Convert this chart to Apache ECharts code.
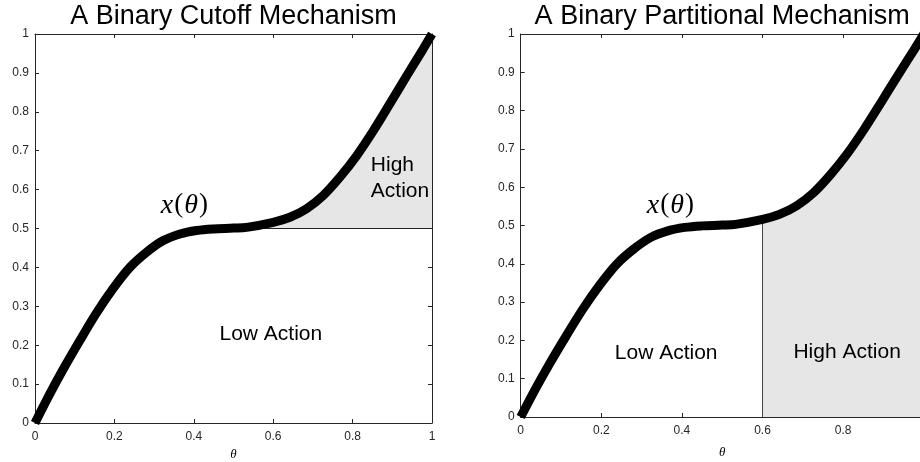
<!DOCTYPE html>
<html>
<head>
<meta charset="utf-8">
<script src="https://cdn.jsdelivr.net/npm/echarts@6/dist/echarts.min.js"></script>
<style>html,body{margin:0;padding:0;background:#fff}#c{width:920px;height:462px}</style>
</head>
<body>
<div id="c"></div>
<script>
// ---- data ----
const theta = [0, 0.038, 0.071, 0.113, 0.155, 0.197, 0.239, 0.281, 0.323, 0.365, 0.407, 0.449, 0.5, 0.533, 0.6, 0.642, 0.684, 0.726, 0.768, 0.81, 0.852, 0.894, 0.936, 0.978, 1];
const xTheta = [0, 0.076, 0.138, 0.212, 0.283, 0.346, 0.400, 0.439, 0.469, 0.486, 0.495, 0.499, 0.501, 0.503, 0.516, 0.529, 0.551, 0.585, 0.632, 0.687, 0.751, 0.821, 0.892, 0.962, 1];
const cutoffLevel = 0.5;      // left panel: horizontal cutoff
const partitionTheta = 0.6;   // right panel: vertical partition
const titles = ['A Binary Cutoff Mechanism', 'A Binary Partitional Mechanism'];

const curve = theta.map((t, i) => [t, xTheta[i]]);
const highLeft = curve.filter(p => p[0] >= 0.5);
const highRight = curve.filter(p => p[0] >= partitionTheta);
const partVal = xTheta[theta.indexOf(partitionTheta)];

const grids = [
  {left: 35, top: 34, width: 397, height: 389},
  {left: 520.7, top: 34, width: 403, height: 383}
];
const axisColor = '#262626';
const font = 'Liberation Sans, Arial, Helvetica, sans-serif';

function xAx(gi, pos, nameGap) {
  const main = pos === 'bottom';
  return {
    type: 'value', gridIndex: gi, position: pos, min: 0, max: 1, interval: 0.2,
    name: main ? 'θ' : '', nameLocation: 'middle', nameGap: nameGap,
    nameTextStyle: {fontFamily: 'Liberation Serif, Times New Roman, serif', fontStyle: 'italic', fontSize: 13, color: '#000'},
    axisLine: {show: true, onZero: false, lineStyle: {color: axisColor, width: 1}},
    axisTick: {show: true, inside: true, length: 4, lineStyle: {color: axisColor}},
    axisLabel: {show: main, fontSize: 12, color: axisColor, fontFamily: font, margin: 8},
    splitLine: {show: false}
  };
}
function yAx(gi, pos) {
  const main = pos === 'left';
  return {
    type: 'value', gridIndex: gi, position: pos, min: 0, max: 1, interval: 0.1,
    axisLine: {show: true, onZero: false, lineStyle: {color: axisColor, width: 1}},
    axisTick: {show: true, inside: true, length: 4, lineStyle: {color: axisColor}},
    axisLabel: {show: main, fontSize: 12, color: axisColor, fontFamily: font, margin: 6},
    splitLine: {show: false}
  };
}

const chart = echarts.init(document.getElementById('c'), null, {renderer: 'canvas'});
const curveStyle = {color: '#000', width: 9, cap: 'butt'};
chart.setOption({
  animation: false,
  grid: grids.map(g => Object.assign({containLabel: false, outerBoundsMode: 'none'}, g)),
  xAxis: [xAx(0, 'bottom', 20), xAx(1, 'bottom', 29), xAx(0, 'top'), xAx(1, 'top')],
  yAxis: [yAx(0, 'left'), yAx(1, 'left'), yAx(0, 'right'), yAx(1, 'right')],
  series: [
    // left shaded high action
    {type: 'line', xAxisIndex: 0, yAxisIndex: 0, data: highLeft, smooth: 0.35,
     showSymbol: false, lineStyle: {width: 0}, areaStyle: {color: '#e6e6e6', opacity: 1, origin: cutoffLevel}, z: 1, silent: true},
    {type: 'line', xAxisIndex: 0, yAxisIndex: 0, data: [[0.5, cutoffLevel], [1, cutoffLevel]],
     showSymbol: false, lineStyle: {color: '#222', width: 1}, z: 2, silent: true},
    {type: 'line', xAxisIndex: 0, yAxisIndex: 0, data: curve, smooth: 0.35,
     showSymbol: false, lineStyle: curveStyle, z: 3, silent: true},
    // right shaded high action
    {type: 'line', xAxisIndex: 1, yAxisIndex: 1, data: highRight, smooth: 0.35,
     showSymbol: false, lineStyle: {width: 0}, areaStyle: {color: '#e6e6e6', opacity: 1, origin: 'start'}, z: 1, silent: true},
    {type: 'line', xAxisIndex: 1, yAxisIndex: 1, data: [[partitionTheta, 0], [partitionTheta, partVal]],
     showSymbol: false, lineStyle: {color: '#444', width: 1}, z: 2, silent: true},
    {type: 'line', xAxisIndex: 1, yAxisIndex: 1, data: curve, smooth: 0.35,
     showSymbol: false, lineStyle: curveStyle, z: 3, silent: true}
  ]
});

// annotations placed in data coordinates
const notes = [
  {g: 0, at: [0.375, 0.56], text: '{i|x}{n|(}{i|θ}{n|)}', math: true, align: 'center'},
  {g: 0, at: [0.594, 0.229], text: 'Low Action', align: 'center'},
  {g: 0, at: [0.846, 0.629], text: 'High\nAction', align: 'left'},
  {g: 1, at: [0.37, 0.553], text: '{i|x}{n|(}{i|θ}{n|)}', math: true, align: 'center'},
  {g: 1, at: [0.361, 0.167], text: 'Low Action', align: 'center'},
  {g: 1, at: [0.81, 0.17], text: 'High Action', align: 'center'}
];
const graphic = [];
notes.forEach(n => {
  const p = chart.convertToPixel({gridIndex: n.g}, n.at);
  const style = {text: n.text, x: p[0], y: p[1], align: n.align, verticalAlign: 'middle', fill: '#000'};
  if (n.math) {
    style.rich = {
      i: {fontFamily: 'Liberation Serif, Times New Roman, serif', fontStyle: 'italic', fontSize: 28, fill: '#000', padding: [0, 1, 0, 1]},
      n: {fontFamily: 'Liberation Serif, Times New Roman, serif', fontSize: 27, fill: '#000'}
    };
  } else {
    style.font = '21px ' + font;
    style.lineHeight = 26.7;
  }
  graphic.push({type: 'text', z: 10, style: style, silent: true});
});
grids.forEach((g, i) => {
  graphic.push({type: 'text', z: 10, silent: true, style: {
    text: titles[i], x: g.left + g.width / 2, y: 16.5, align: 'center', verticalAlign: 'middle',
    font: '27px ' + font, fill: '#000'}});
});
chart.setOption({graphic: graphic});
</script>
</body>
</html>
